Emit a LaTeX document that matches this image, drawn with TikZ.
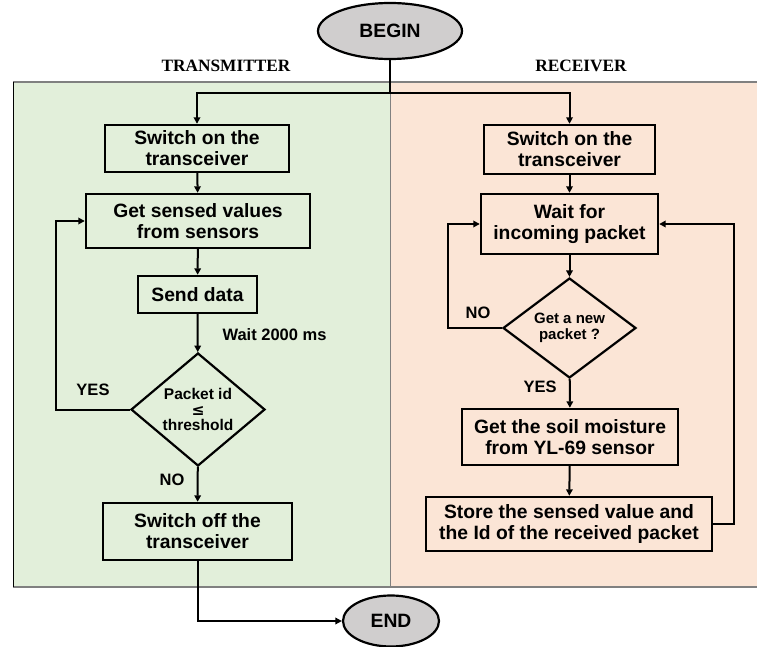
\documentclass[tikz,border=0pt]{standalone}
\usepackage{fontspec}
\setmainfont{Liberation Sans}
\newfontfamily\lanefont{Liberation Serif}
\newfontfamily\symfont{DejaVu Sans}
\usetikzlibrary{shapes.geometric,arrows.meta}
\definecolor{txpanel}{RGB}{226,239,218}
\definecolor{rxpanel}{RGB}{251,229,214}
\definecolor{termfill}{RGB}{208,206,206}
\definecolor{panelline}{RGB}{128,128,128}
\tikzset{
  stepbox/.style={draw=black, line width=2.4pt, align=center, inner sep=0pt,
    font=\fontsize{19.3}{21}\selectfont\bfseries},
  decision/.style={draw=black, line width=2.2pt, diamond, align=center, inner sep=0pt,
    font=\fontsize{15.5}{16.5}\selectfont\bfseries},
  terminal/.style={draw=black, line width=2.2pt, ellipse, fill=termfill, inner sep=0pt,
    font=\fontsize{19.3}{20}\selectfont\bfseries},
  flow/.style={line width=2pt, -{Triangle[length=6.5pt,width=6.5pt]}},
  plainflow/.style={line width=2pt},
  tag/.style={font=\fontsize{16.5}{18}\selectfont\bfseries},
  lane/.style={font=\fontsize{17.3}{20}\lanefont\bfseries},
}
\begin{document}
\begin{tikzpicture}[x=1pt,y=-1pt]
\useasboundingbox (0,0) rectangle (757,647);

% swim lanes
\fill[txpanel] (13,82) rectangle (390,587);
\fill[rxpanel] (390,82) rectangle (757,587);
\draw[panelline, line width=1.2pt] (13,82) -- (757,82);
\draw[panelline, line width=1.2pt] (13,587) -- (757,587);
\draw[panelline, line width=1pt] (390,82) -- (390,587);
\draw[black, line width=1pt] (13,82) -- (13,587);
\node[lane] (txlane) at (226,66) {TRANSMITTER};
\node[lane] (rxlane) at (581,66) {RECEIVER};

% terminals
\node[terminal, minimum width=144pt, minimum height=56pt] (begin) at (390,31) {BEGIN};
\node[terminal, minimum width=96pt, minimum height=51pt] (end) at (391,621) {END};

% transmitter steps
\node[stepbox, minimum width=184pt, minimum height=47pt] (t1) at (197,148.5) {Switch on the\\transceiver};
\node[stepbox, minimum width=224pt, minimum height=54pt] (t2) at (198,221) {Get sensed values\\from sensors};
\node[stepbox, minimum width=119pt, minimum height=37pt] (t3) at (197.5,294.5) {Send data};
\node[decision, minimum width=134pt, minimum height=111pt] (t4) at (198,409.5) {Packet id\\[-1pt]{\symfont\bfseries ≤}\\[-1pt]threshold};
\node[stepbox, minimum width=189pt, minimum height=57pt] (t5) at (197.5,531.5) {Switch off the\\transceiver};

% receiver steps
\node[stepbox, minimum width=171pt, minimum height=49pt] (r1) at (569.5,149.5) {Switch on the\\transceiver};
\node[stepbox, minimum width=177pt, minimum height=60pt] (r2) at (569.5,224) {Wait for\\incoming packet};
\node[decision, minimum width=133pt, minimum height=88pt, font=\fontsize{15}{15.5}\selectfont\bfseries] (r3) at (569.5,328) {Get a new\\packet ?};
\node[stepbox, minimum width=216pt, minimum height=56pt] (r4) at (570,437) {Get the soil moisture\\from YL-69 sensor};
\node[stepbox, minimum width=286pt, minimum height=54pt] (r5) at (569,524) {Store the sensed value and\\the Id of the received packet};

% labels on connectors
\node[tag, anchor=west] (wait) at (219,335) {Wait 2000 ms};
\node[tag] (yes1) at (93,390) {YES};
\node[tag] (no1) at (172,480) {NO};
\node[tag] (no2) at (478,313) {NO};
\node[tag] (yes2) at (540,387) {YES};

% split from BEGIN into both lanes
\coordinate (split) at (390,93);
\draw[plainflow] (begin.south) -- (split);
\draw[flow] (split) -| (t1.north);
\draw[flow] (split) -| (r1.north);

% transmitter flow
\draw[flow] (t1) -- (t2);
\draw[flow] (t2) -- (t3);
\draw[flow] (t3) -- (t4);
\draw[flow] (t4) -- (t5);
\draw[flow] (t4.west) -- (56,409.5) |- (t2.west);
\draw[flow] (t5.south) |- (end.west);

% receiver flow
\draw[flow] (r1) -- (r2);
\draw[flow] (r2) -- (r3);
\draw[flow] (r3) -- (r4);
\draw[flow] (r4) -- (r5);
\draw[flow] (r3.west) -- (448,328) |- (r2.west);
\draw[flow] (r5.east) -- (734,524) |- (r2.east);
\end{tikzpicture}
\end{document}
